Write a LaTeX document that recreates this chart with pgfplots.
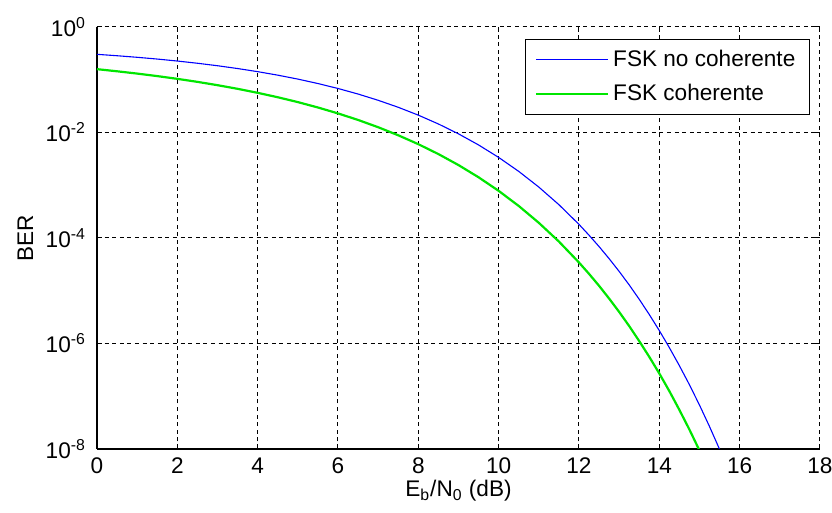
\documentclass[border=0pt]{standalone}
\usepackage{fontspec}
\setmainfont{Liberation Sans}
\usepackage{pgfplots}
\pgfplotsset{compat=1.18}

\newcommand{\lbl}{\fontsize{11.3}{13.5}\selectfont}

\begin{document}
\begin{tikzpicture}
\begin{axis}[name=ax,
  scale only axis, width=361.5pt, height=211pt,
  ymode=log,
  xmin=0, xmax=18, ymin=1e-8, ymax=1,
  xtick={0,2,...,18}, ytick={1e-8,1e-6,1e-4,1e-2,1},
  minor ytick={},
  /pgf/number format/assume math mode=true,
  tick align=inside, major tick length=2.5pt,
  tick style={black, line width=0.5pt},
  axis x line*=bottom, axis y line*=left,
  axis line style={black, line width=0.6pt, -},
  grid=major,
  major grid style={black, line width=0.5pt, dash pattern=on 2pt off 1.8pt},
  yticklabels={10\textsuperscript{-8},10\textsuperscript{-6},10\textsuperscript{-4},10\textsuperscript{-2},10\textsuperscript{0}},
  tick label style={font=\lbl},
  yticklabel style={xshift=-2pt},
  xticklabel style={yshift=-0.8pt},
  xlabel={E\textsubscript{b}/N\textsubscript{0} (dB)},
  ylabel={BER},
  label style={font=\lbl},
  xlabel style={at={(axis description cs:0.5,-0.1137)}, anchor=base},
  ylabel style={at={(axis description cs:-0.0885,0.5)}, anchor=base},
  legend style={at={(axis description cs:0.986,0.972)}, anchor=north east,
    draw=black, fill=white, line width=0.5pt, font=\lbl,
    inner xsep=5pt, inner ysep=3.4pt, row sep=3.4pt,
    nodes={inner sep=2pt}},
  legend cell align=left,
  legend image code/.code={\draw[#1] (0pt,0pt) -- (36pt,0pt);},
]
\addplot[blue, line width=0.55pt] coordinates {
(0,0.3033) (0.5,0.2853) (1,0.2664) (1.5,0.2468) (2,0.2264) (2.5,0.2055)
(3,0.1844) (3.5,0.1632) (4,0.1424) (4.5,0.1222) (5,0.1029) (5.5,0.0848)
(6,0.0683) (6.5,0.0536) (7,0.04079) (7.5,0.03006) (8,0.02133) (8.5,0.01451)
(9,0.009424) (9.5,0.005806) (10,0.003369) (10.5,0.001831) (11,9.23e-4)
(11.5,4.28e-4) (12,1.811e-4) (12.25,1.13e-4) (12.5,6.875e-5) (12.75,4.06e-5)
(13,2.325e-5) (13.25,1.29e-5) (13.5,6.88e-6) (13.75,3.54e-6) (14,1.755e-6)
(14.25,8.34e-7) (14.5,3.79e-7) (14.75,1.65e-7) (15,6.80e-8) (15.25,2.66e-8)
(15.5,9.86e-9)
};
\addlegendentry{FSK no coherente}
\addplot[color={rgb,255:red,0;green,230;blue,0}, line width=1.1pt] coordinates {
(0,0.1587) (0.5,0.1447) (1,0.1309) (1.5,0.1173) (2,0.1040) (2.5,0.0912)
(3,0.0789) (3.5,0.0673) (4,0.0565) (4.5,0.0466) (5,0.0377) (5.5,0.0298)
(6,0.0230) (6.5,0.0173) (7,0.01259) (7.5,0.00886) (8,0.006004) (8.5,0.00390)
(9,0.002413) (9.5,0.001416) (10,7.827e-4) (10.5,4.05e-4) (11,1.94e-4)
(11.5,8.56e-5) (12,3.43e-5) (12.25,2.09e-5) (12.5,1.24e-5) (12.75,7.11e-6)
(13,3.97e-6) (13.25,2.14e-6) (13.5,1.11e-6) (13.75,5.58e-7) (14,2.70e-7)
(14.25,1.25e-7) (14.5,5.5e-8) (14.75,2.33e-8) (15,9.36e-9)
};
\addlegendentry{FSK coherente}
\end{axis}
\begin{axis}[
  scale only axis, width=361.5pt, height=211pt,
  ymode=log,
  xmin=0, xmax=18, ymin=1e-8, ymax=1,
  xtick={0,2,...,18}, ytick={1e-8,1e-6,1e-4,1e-2,1},
  minor ytick={},
  tick align=inside, major tick length=2.5pt,
  tick style={black, line width=0.5pt},
  axis x line*=top, axis y line*=right,
  axis line style={draw=none},
  xticklabels={}, yticklabels={},
]
\end{axis}
\pgfresetboundingbox
\path ([shift={(-48.5pt,-32pt)}]ax.south west) rectangle ([shift={(6pt,13.5pt)}]ax.north east);
\end{tikzpicture}
\end{document}
